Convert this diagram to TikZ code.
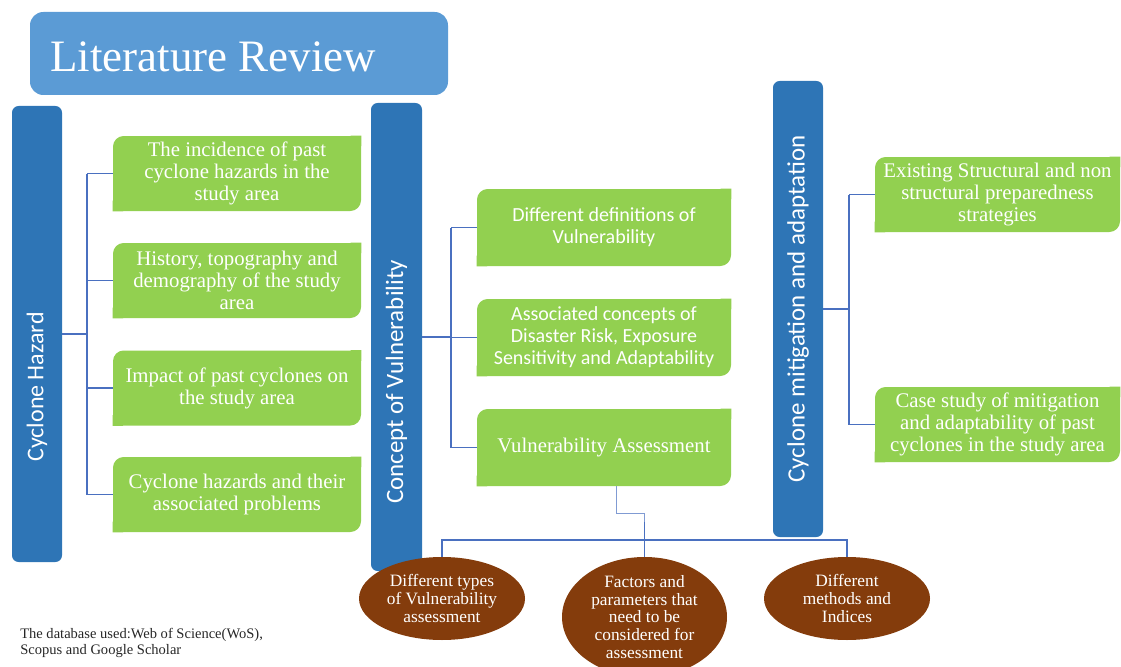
\documentclass[tikz,border=0pt]{standalone}
\usepackage{fontspec}
\setmainfont{Liberation Serif}
\newfontfamily\sansfam{Carlito}
\usetikzlibrary{shapes.geometric}
\definecolor{titleblue}{HTML}{5B9BD5}
\definecolor{barblue}{HTML}{2E75B6}
\definecolor{grn}{HTML}{92D050}
\definecolor{brn}{HTML}{843C0C}
\definecolor{lineblue}{HTML}{4A70C0}
\newcommand\gcorners[1]{\fill[grn] (#1.north east) rectangle ++(-8pt,-8pt) (#1.south west) rectangle ++(8pt,8pt);}
\begin{document}
\begin{tikzpicture}[x=0.75pt,y=-0.75pt,
 bar/.style={fill=barblue, rounded corners=5pt, inner sep=0pt},
 bartext/.style={rotate=90, text=white, font=\sansfam\fontsize{18}{20}\selectfont, inner sep=0pt},
 bartextb/.style={bartext, font=\sansfam\fontsize{18.7}{20}\selectfont},
 gbox/.style={fill=grn, rounded corners=8pt, text=white, align=center, inner sep=0pt},
 serifbox/.style={gbox, font=\fontsize{15.6}{16.5}\selectfont},
 sansbox/.style={gbox, font=\sansfam\fontsize{15}{16.5}\selectfont},
 conn/.style={draw=lineblue, line width=0.8pt},
 oval/.style={ellipse, fill=brn, text=white, align=center, inner sep=0pt, font=\fontsize{13}{13.2}\selectfont}]
\useasboundingbox (0,0) rectangle (1121,667);

% title
\node[fill=titleblue, rounded corners=10pt, minimum width=313.5pt, minimum height=62.25pt] (title) at (239,53.5) {};
\node[anchor=base west, text=white, inner sep=0pt, font=\fontsize{33.7}{40}\selectfont] (titletext) at (50,72) {Literature Review};

% bars
\node[bar, minimum width=37.5pt, minimum height=342pt] (ch) at (37,334) {};
\node[bartext] (cht) at (37,387) {Cyclone Hazard};
\node[bar, minimum width=38.25pt, minimum height=351pt] (cv) at (396.5,337) {};
\node[bartextb] (cvt) at (396.5,382) {Concept of Vulnerability};
\node[bar, minimum width=37.5pt, minimum height=342pt] (cm) at (798,309) {};
\node[bartextb] (cmt) at (798,309) {Cyclone mitigation and adaptation};

% left boxes
\node[serifbox, minimum width=186pt, minimum height=56.25pt] (l1) at (237,173.5) {The incidence of past\\cyclone hazards in the\\study area};
\gcorners{l1}
\node[serifbox, minimum width=186pt, minimum height=56.25pt] (l2) at (237,280.5) {History, topography and\\demography of the study\\area};
\gcorners{l2}
\node[serifbox, minimum width=186pt, minimum height=56.25pt] (l3) at (237,388) {Impact of past cyclones on\\the study area};
\gcorners{l3}
\node[serifbox, minimum width=186pt, minimum height=56.25pt] (l4) at (237,494.5) {Cyclone hazards and their\\associated problems};
\gcorners{l4}

% middle boxes
\node[sansbox, minimum width=190.5pt, minimum height=57.75pt] (m1) at (604,227.5) {Different definitions of\\Vulnerability};
\gcorners{m1}
\node[sansbox, minimum width=190.5pt, minimum height=57.75pt] (m2) at (604,337.5) {Associated concepts of\\Disaster Risk, Exposure\\Sensitivity and Adaptability};
\gcorners{m2}
\node[serifbox, minimum width=190.5pt, minimum height=57.75pt] (m3) at (604,447.5) {Vulnerability Assessment};
\gcorners{m3}

% right boxes
\node[serifbox, minimum width=183.75pt, minimum height=56.25pt] (r1) at (997.5,194.5) {Existing Structural and non\\structural preparedness\\strategies};
\gcorners{r1}
\node[serifbox, minimum width=183.75pt, minimum height=56.25pt] (r2) at (997.5,424.5) {Case study of mitigation\\and adaptability of past\\cyclones in the study area};
\gcorners{r2}

% connectors left
\coordinate (lj) at (87,334);
\draw[conn] (ch.east) -- (lj);
\draw[conn] (lj |- l1) -- (lj |- l4);
\foreach \n in {l1,l2,l3,l4} \draw[conn] (lj |- \n) -- (\n.west);

% connectors middle
\coordinate (mj) at (451,337);
\draw[conn] (cv.east) -- (mj);
\draw[conn] (mj |- m1) -- (mj |- m3);
\foreach \n in {m1,m2,m3} \draw[conn] (mj |- \n) -- (\n.west);

% connectors right
\coordinate (rj) at (849,309);
\draw[conn] (cm.east) -- (rj);
\draw[conn] (rj |- r1) -- (rj |- r2);
\foreach \n in {r1,r2} \draw[conn] (rj |- \n) -- (\n.west);

% ellipses
\node[oval, minimum width=124.5pt, minimum height=62.25pt] (e1) at (442,598.5) {Different types\\of Vulnerability\\assessment};
\node[oval, minimum width=123.75pt, minimum height=90pt] (e2) at (644.5,617) {Factors and\\parameters that\\need to be\\considered for\\assessment};
\node[oval, minimum width=124.5pt, minimum height=62.25pt] (e3) at (847,598.5) {Different\\methods and\\Indices};

% bottom connectors
\coordinate (bus) at (645,540);
\coordinate (vk) at (616,513);
\draw[conn, line width=0.6pt, draw=lineblue!70] (m3.south -| vk) -- (vk) -- (vk -| e2.north) -- (e2.north |- bus);
\draw[conn, line width=1.4pt] (e2.north |- 0,522) -- (e2.north |- bus);
\draw[conn] (e1.north) -- (e1.north |- bus) -- (e3.north |- bus) -- (e3.north);
\draw[conn] (e2.north |- bus) -- (e2.north);

% note
\node[anchor=north west, align=left, inner sep=0pt, text=black!85, font=\fontsize{10.9}{12}\selectfont] (note) at (20,628) {The database used:Web of Science(WoS),\\Scopus and Google Scholar};
\end{tikzpicture}
\end{document}
